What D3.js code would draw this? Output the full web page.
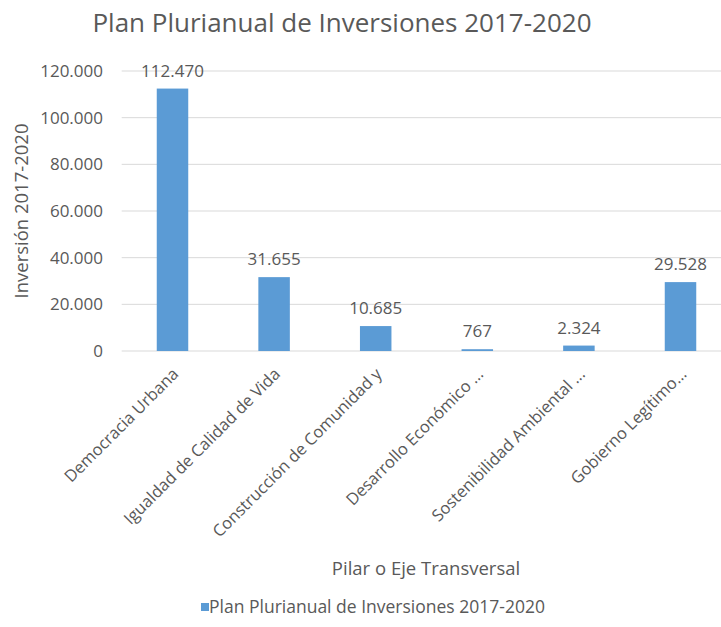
<!DOCTYPE html>
<html>
<head>
<meta charset="utf-8">
<script src="https://cdn.jsdelivr.net/npm/d3@7"></script>
<style>
    body { margin: 0; background: #fff; }
    text { font-family: 'Open Sans', 'Noto Sans', sans-serif; fill: #595959; }
</style>
</head>
<body>
<div id="chart"></div>
<script>
const categories = [
    'Democracia Urbana',
    'Igualdad de Calidad de Vida',
    'Construcción de Comunidad y',
    'Desarrollo Económico ...',
    'Sostenibilidad Ambiental ...',
    'Gobierno Legítimo...'
];
const values = [112470, 31655, 10685, 767, 2324, 29528];
const yTicks = [0, 20000, 40000, 60000, 80000, 100000, 120000];
const seriesName = 'Plan Plurianual de Inversiones 2017-2020';

const width = 721;
const height = 627;

const locale = d3.formatLocale({ decimal: ',', thousands: '.', grouping: [3], currency: ['', ''] });
const fmt = locale.format(',d');

const svg = d3.select('#chart').append('svg')
    .attr('width', width)
    .attr('height', height);

const x = d3.scaleBand()
    .domain(categories)
    .range([121.7, 731.3])
    .paddingInner(0.69)
    .paddingOuter(0.345);

const y = d3.scaleLinear()
    .domain([0, 120000])
    .range([351, 71]);

// gridlines
svg.append('g')
    .selectAll('line')
    .data(yTicks)
    .enter()
    .append('line')
    .attr('x1', 121.7)
    .attr('x2', width)
    .attr('y1', d => y(d))
    .attr('y2', d => y(d))
    .attr('stroke', '#d9d9d9')
    .attr('stroke-width', 1);

// y tick labels
svg.append('g')
    .selectAll('text')
    .data(yTicks)
    .enter()
    .append('text')
    .attr('x', 103)
    .attr('y', d => y(d))
    .attr('dy', '0.35em')
    .attr('text-anchor', 'end')
    .style('font-size', '17px')
    .text(d => fmt(d));

// bars
svg.append('g')
    .selectAll('rect')
    .data(values)
    .enter()
    .append('rect')
    .attr('x', (d, i) => x(categories[i]))
    .attr('y', d => y(d))
    .attr('width', x.bandwidth())
    .attr('height', d => y(0) - y(d))
    .attr('fill', '#5b9bd5');

// value labels
svg.append('g')
    .selectAll('text')
    .data(values)
    .enter()
    .append('text')
    .attr('x', (d, i) => x(categories[i]) + x.bandwidth() / 2)
    .attr('y', d => y(d) - 12)
    .attr('text-anchor', 'middle')
    .style('font-size', '17px')
    .text(d => fmt(d));

// category labels, rotated
svg.append('g')
    .selectAll('text')
    .data(categories)
    .enter()
    .append('text')
    .attr('transform', d => `translate(${x(d) + x.bandwidth() / 2 + 3},${y(0) + 20}) rotate(-45)`)
    .attr('text-anchor', 'end')
    .attr('dy', '0.35em')
    .style('font-size', '16.5px')
    .text(d => d);

// title
svg.append('text')
    .attr('x', 342)
    .attr('y', 32)
    .attr('text-anchor', 'middle')
    .style('font-size', '26px')
    .text(seriesName);

// axis titles
svg.append('text')
    .attr('transform', 'translate(22,211) rotate(-90)')
    .attr('text-anchor', 'middle')
    .attr('dy', '0.35em')
    .style('font-size', '18.5px')
    .text('Inversión 2017-2020');

svg.append('text')
    .attr('x', 426)
    .attr('y', 575)
    .attr('text-anchor', 'middle')
    .style('font-size', '18.5px')
    .text('Pilar o Eje Transversal');

// legend
const legend = svg.append('g').attr('transform', 'translate(201,607)');
legend.append('rect')
    .attr('x', 0)
    .attr('y', -4)
    .attr('width', 8)
    .attr('height', 8)
    .attr('fill', '#5b9bd5');
legend.append('text')
    .attr('x', 8)
    .attr('y', 0)
    .attr('dy', '0.35em')
    .style('font-size', '17.5px')
    .text(seriesName);
</script>
</body>
</html>
